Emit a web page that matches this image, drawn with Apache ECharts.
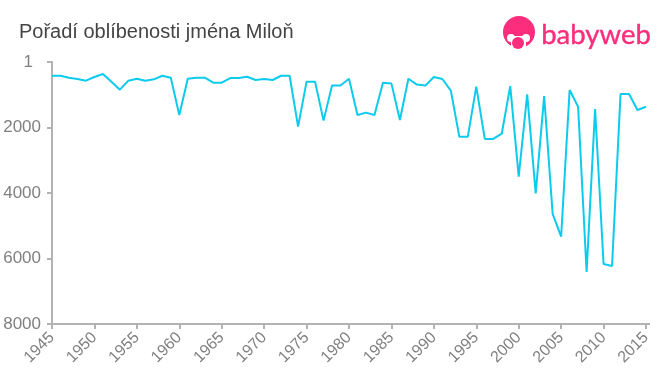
<!DOCTYPE html>
<html>
<head>
<meta charset="utf-8">
<script src="https://cdn.jsdelivr.net/npm/echarts@6/dist/echarts.min.js"></script>
<style>
    html, body { margin: 0; padding: 0; background: #fff; }
    #chart { width: 660px; height: 375px; }
</style>
</head>
<body>
<div id="chart"></div>
<script>
    var years = [];
    for (var y = 1945; y <= 2015; y++) years.push(String(y));

    // poradi jmena, rok po roku
    var ranks = [
        420, 420, 480, 520, 570, 458, 366, 600, 845, 570,
        510, 570, 530, 420, 480, 1620, 510, 480, 480, 630,
        630, 490, 490, 450, 550, 520, 550, 420, 420, 1975,
        600, 600, 1790, 720, 720, 510, 1620, 1545, 1620, 630,
        660, 1770, 510, 690, 720, 458, 520, 875, 2280, 2280,
        750, 2350, 2350, 2190, 735, 3500, 988, 4010, 1040, 4640,
        5330, 855, 1365, 6410, 1440, 6170, 6230, 977, 977, 1465,
        1365
    ];

    var titleText = 'Pořadí oblíbenosti jména Miloň';
    var logoText = 'babyweb';
    var logoColor = '#fb2d7c';
    var axisColor = '#b3b3b3';

    var myChart = echarts.init(document.getElementById('chart'));
    myChart.setOption({
        animation: false,
        title: {
            text: titleText,
            left: 14,
            top: 17,
            textStyle: {
                fontFamily: 'Liberation Sans',
                fontSize: 20,
                fontWeight: 'normal',
                color: '#444'
            }
        },
        grid: { left: 52, right: 14, top: 62, bottom: 51 },
        xAxis: {
            type: 'category',
            data: years,
            boundaryGap: false,
            axisLine: { onZero: false, lineStyle: { color: axisColor, width: 2 } },
            axisTick: { interval: 4, length: 5, lineStyle: { color: axisColor, width: 2 } },
            axisLabel: {
                interval: 4,
                rotate: 45,
                margin: 11,
                fontFamily: 'Liberation Sans',
                fontSize: 16,
                color: '#808080'
            }
        },
        yAxis: {
            type: 'value',
            inverse: true,
            min: 0,
            max: 8000,
            interval: 2000,
            splitLine: { show: false },
            axisLine: { show: true, lineStyle: { color: axisColor, width: 2 } },
            axisTick: { show: true, length: 5, lineStyle: { color: axisColor, width: 2 } },
            axisLabel: {
                margin: 11,
                fontFamily: 'Liberation Sans',
                fontSize: 17,
                color: '#808080',
                // horni popisek je "1" a je odsazeny od osy
                formatter: function (v) { return v === 0 ? '{one|1}' : String(v); },
                rich: {
                    one: {
                        padding: [0, 8, 0, 0],
                        fontFamily: 'Liberation Sans',
                        fontSize: 17,
                        color: '#808080'
                    }
                }
            }
        },
        series: [{
            type: 'line',
            data: ranks,
            symbol: 'none',
            lineStyle: { color: '#0ccbec', width: 2 }
        }],
        graphic: [
            // osa x pokracuje kousek za posledni rok
            { type: 'line', shape: { x1: 646, y1: 324, x2: 650, y2: 324 }, style: { stroke: axisColor, lineWidth: 2 } },
            // logo: hlava, oblicej, dudlik
            { type: 'circle', shape: { cx: 519, cy: 32, r: 16 }, style: { fill: logoColor } },
            { type: 'circle', shape: { cx: 511, cy: 38, r: 4 }, style: { fill: '#fff' } },
            { type: 'circle', shape: { cx: 526, cy: 38, r: 4 }, style: { fill: '#fff' } },
            { type: 'rect', shape: { x: 511, y: 36, width: 15, height: 13 }, style: { fill: '#fff' } },
            { type: 'circle', shape: { cx: 518, cy: 43, r: 6 }, style: { fill: logoColor } },
            {
                type: 'text',
                left: 541,
                top: 21,
                style: {
                    text: logoText,
                    fontFamily: 'Lato',
                    fontSize: 27.5,
                    fill: logoColor,
                    stroke: logoColor,
                    lineWidth: 0.4
                }
            }
        ]
    });
</script>
</body>
</html>
